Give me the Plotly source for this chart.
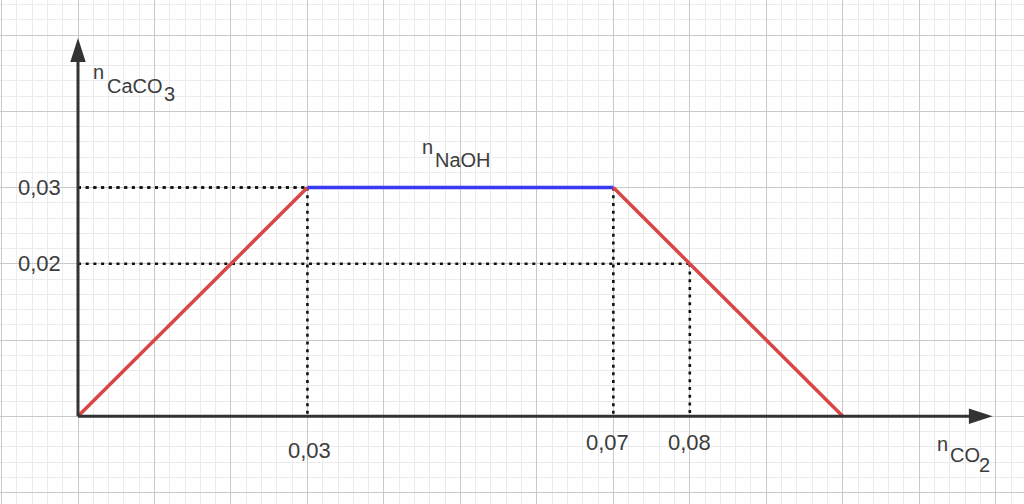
import plotly.graph_objects as go

# ---------------- data ----------------
x_co2 = [0, 0.03, 0.07, 0.10]          # n_CO2 breakpoints
y_caco3 = [0, 0.03, 0.03, 0]           # n_CaCO3 at breakpoints
segment_colors = ["#d94646", "#3a3af0", "#d94646"]

guide_x = [0.03, 0.07, 0.08]           # dotted guide points
guide_y = [0.03, 0.03, 0.02]

xtick_vals = [0.03, 0.07, 0.08]
xtick_text = ["0,03", "0,07", "0,08"]
ytick_vals = [0.03, 0.02]
ytick_text = ["0,03", "0,02"]

# ---------------- style ----------------
W, H = 1024, 504
XR = [-0.0102, 0.1237]
YR = [-0.0115, 0.0546]
AXIS_COLOR = "#333333"
TEXT_COLOR = "#3c3c3c"
FONT = "Liberation Sans, Arial, sans-serif"
X_TIP = 0.1196
Y_TIP = 0.0496

fig = go.Figure()

# dotted guides
gx, gy = [], []
for xv, yv in zip(guide_x, guide_y):
    gx += [0, xv, None, xv, xv, None]
    gy += [yv, yv, None, yv, 0, None]
fig.add_trace(go.Scatter(x=gx, y=gy, mode="lines",
                         line=dict(color="#111111", width=2.6, dash="3px,4.7px"),
                         hoverinfo="skip", showlegend=False))

# graph segments
for i, c in enumerate(segment_colors):
    fig.add_trace(go.Scatter(x=x_co2[i:i + 2], y=y_caco3[i:i + 2], mode="lines",
                             line=dict(color=c, width=3.5),
                             hoverinfo="skip", showlegend=False))

# axes with arrows
dx_back = (XR[1] - XR[0]) / W * 10
dy_back = (YR[1] - YR[0]) / H * 10
fig.add_trace(go.Scatter(x=[0, X_TIP - dx_back], y=[0, 0], mode="lines",
                         line=dict(color=AXIS_COLOR, width=3),
                         hoverinfo="skip", showlegend=False))
fig.add_trace(go.Scatter(x=[0, 0], y=[0, Y_TIP - dy_back], mode="lines",
                         line=dict(color=AXIS_COLOR, width=3),
                         hoverinfo="skip", showlegend=False))
fig.add_trace(go.Scatter(x=[X_TIP, 0], y=[0, Y_TIP], mode="markers",
                         marker=dict(symbol="arrow", size=25, angle=[90, 0],
                                     color=AXIS_COLOR, line=dict(width=0)),
                         hoverinfo="skip", showlegend=False))

annotations = []
# x tick labels
x_offsets = [(2, -34), (-6, -26), (0, -26)]
for v, t, (xs, ys) in zip(xtick_vals, xtick_text, x_offsets):
    annotations.append(dict(x=v, y=0, xref="x", yref="y", text=t, showarrow=False,
                            xanchor="center", yanchor="middle", xshift=xs, yshift=ys,
                            font=dict(size=22, color=TEXT_COLOR, family=FONT)))
# y tick labels
for v, t in zip(ytick_vals, ytick_text):
    annotations.append(dict(x=0, y=v, xref="x", yref="y", text=t, showarrow=False,
                            xanchor="right", yanchor="middle", xshift=-15,
                            font=dict(size=22, color=TEXT_COLOR, family=FONT)))

# axis / curve labels built from pieces (text, left px, cap-center py)
label_pieces = [
    ("n", 92, 72), ("CaCO", 106, 86), ("3", 163, 94),
    ("n", 421, 147), ("NaOH", 434, 160),
    ("n", 936, 444), ("CO", 949, 455), ("2", 978, 465),
]
for t, lx, cy in label_pieces:
    annotations.append(dict(x=lx / W, y=1 - cy / H, xref="paper", yref="paper",
                            text=t, showarrow=False, xanchor="left", yanchor="middle",
                            borderpad=0,
                            font=dict(size=20, color=TEXT_COLOR, family=FONT)))

axis_common = dict(showgrid=True, gridcolor="#c9c9c9", gridwidth=1,
                   dtick=0.01, tick0=0, zeroline=False, showticklabels=False,
                   ticks="", showline=False,
                   minor=dict(dtick=0.002, tick0=0, showgrid=True,
                              gridcolor="#ebebeb", gridwidth=1))

fig.update_layout(
    width=W, height=H,
    margin=dict(l=0, r=0, t=0, b=0),
    paper_bgcolor="white", plot_bgcolor="white",
    xaxis=dict(range=XR, **axis_common),
    yaxis=dict(range=YR, **axis_common),
    annotations=annotations,
    showlegend=False,
)

fig.write_html("out.html",
               config={"displayModeBar": False},
               post_script="document.body.style.margin='0';document.body.style.overflow='hidden';")
